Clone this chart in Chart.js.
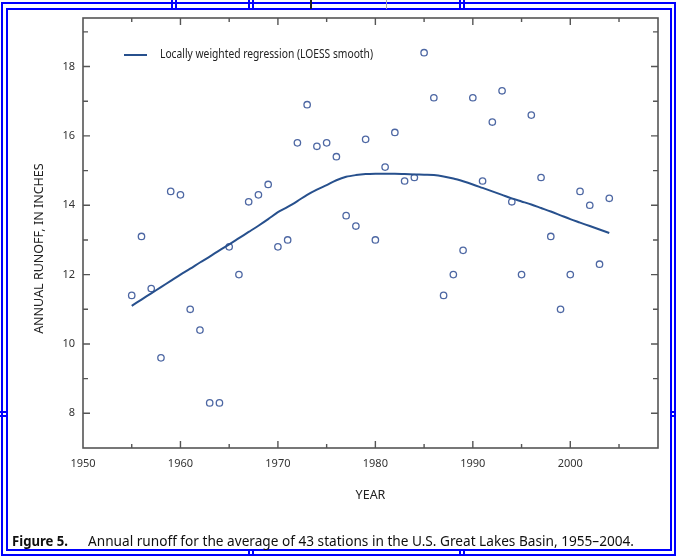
<!DOCTYPE html>
<html>
<head>
<meta charset="utf-8">
<script src="https://cdn.jsdelivr.net/npm/chart.js@4.4.0/dist/chart.umd.min.js"></script>
<style>
  body { margin: 0; background: #fff; }
  #wrap { position: relative; width: 676px; height: 556px; overflow: hidden; background: #fff; }
  #wrap canvas { position: absolute; left: 0; top: 0; }
  .frame { position: absolute; box-sizing: border-box; border: 2px solid #0000ff; }
  .mark { position: absolute; background: #0000ff; }
  .cap { position: absolute; top: 530px; font-family: "Noto Sans", "DejaVu Sans Condensed", sans-serif; font-stretch: condensed; font-size: 15px; color: #111; white-space: nowrap; transform-origin: 0 50%; }
</style>
</head>
<body>
<div id="wrap">
  <canvas id="runoff-chart" width="676" height="556"></canvas>
  <div class="frame" style="left:1px; top:2px; width:675px; height:554px;"></div>
  <div class="frame" style="left:6px; top:8px; width:666px; height:543px;"></div>
  <div class="mark" style="left:171px; top:0; width:2px; height:9px;"></div>
  <div class="mark" style="left:175px; top:0; width:2px; height:9px;"></div>
  <div class="mark" style="left:248px; top:0; width:2px; height:9px;"></div>
  <div class="mark" style="left:252px; top:0; width:2px; height:9px;"></div>
  <div class="mark" style="left:459px; top:0; width:2px; height:9px;"></div>
  <div class="mark" style="left:463px; top:0; width:2px; height:9px;"></div>
  <div class="mark" style="left:310px; top:0; width:2px; height:9px; background:#222"></div>
  <div class="mark" style="left:386px; top:0; width:1px; height:9px; background:#aaa"></div>
  <div class="mark" style="left:248px; top:549px; width:2px; height:7px;"></div>
  <div class="mark" style="left:252px; top:549px; width:2px; height:7px;"></div>
  <div class="mark" style="left:459px; top:549px; width:2px; height:7px;"></div>
  <div class="mark" style="left:463px; top:549px; width:2px; height:7px;"></div>
  <div class="mark" style="left:0; top:411px; width:7px; height:2px;"></div>
  <div class="mark" style="left:0; top:415px; width:7px; height:2px;"></div>
  <div class="mark" style="left:670px; top:411px; width:6px; height:2px;"></div>
  <div class="mark" style="left:670px; top:415px; width:6px; height:2px;"></div>
  <div class="cap" id="cap-fig" data-w="56" style="left:12px; font-weight:bold;">Figure 5.</div>
  <div class="cap" id="cap-text" data-w="546" style="left:88px;">Annual runoff for the average of 43 stations in the U.S. Great Lakes Basin, 1955&#8211;2004.</div>
</div>
<script>
// annual runoff, inches (average of 43 stations)
const years = [1955, 1956, 1957, 1958, 1959, 1960, 1961, 1962, 1963, 1964,
               1965, 1966, 1967, 1968, 1969, 1970, 1971, 1972, 1973, 1974,
               1975, 1976, 1977, 1978, 1979, 1980, 1981, 1982, 1983, 1984,
               1985, 1986, 1987, 1988, 1989, 1990, 1991, 1992, 1993, 1994,
               1995, 1996, 1997, 1998, 1999, 2000, 2001, 2002, 2003, 2004];
const runoff = [11.4, 13.1, 11.6, 9.6, 14.4, 14.3, 11.0, 10.4, 8.3, 8.3,
                12.8, 12.0, 14.1, 14.3, 14.6, 12.8, 13.0, 15.8, 16.9, 15.7,
                15.8, 15.4, 13.7, 13.4, 15.9, 13.0, 15.1, 16.1, 14.7, 14.8,
                18.4, 17.1, 11.4, 12.0, 12.7, 17.1, 14.7, 16.4, 17.3, 14.1,
                12.0, 16.6, 14.8, 13.1, 11.0, 12.0, 14.4, 14.0, 12.3, 14.2];
// LOESS smooth
const loess = [11.10, 11.28, 11.46, 11.64, 11.82, 12.00, 12.17, 12.35, 12.52, 12.70,
               12.87, 13.05, 13.23, 13.41, 13.60, 13.80, 13.95, 14.12, 14.30, 14.45,
               14.58, 14.72, 14.82, 14.87, 14.90, 14.91, 14.91, 14.91, 14.90, 14.89,
               14.88, 14.87, 14.83, 14.77, 14.69, 14.60, 14.50, 14.40, 14.30, 14.20,
               14.11, 14.02, 13.92, 13.82, 13.71, 13.60, 13.50, 13.40, 13.30, 13.20];
const xTicks = [1950, 1960, 1970, 1980, 1990, 2000];
const yTicks = [8, 10, 12, 14, 16, 18];

const FONT = '"Noto Sans", "DejaVu Sans Condensed", sans-serif';
const AXIS_COLOR = '#555';
const POINT_COLOR = '#4d67a3';
const LINE_COLOR = '#27508d';

// squeeze caption lines to the width they have in the figure
document.querySelectorAll('.cap').forEach(function (el) {
    let w = el.getBoundingClientRect().width;
    el.style.transform = 'scaleX(' + (parseFloat(el.dataset.w) / w) + ')';
});

// frame, inward tick marks on all four sides, and the legend inside the plot
const framePlugin = {
    id: 'frameTicks',
    afterDraw: function (chart) {
        let ctx = chart.ctx;
        let area = chart.chartArea;
        let xs = chart.scales.x;
        let ys = chart.scales.y;
        ctx.save();
        ctx.strokeStyle = AXIS_COLOR;
        ctx.lineWidth = 1.6;
        ctx.strokeRect(area.left, area.top, area.right - area.left, area.bottom - area.top);

        ctx.lineWidth = 1.4;
        ctx.beginPath();
        for (let v = xs.min; v <= xs.max; v += 5) {
            let px = xs.getPixelForValue(v);
            if (px <= area.left + 1 || px >= area.right - 1) continue;
            let len = (v % 10 === 0) ? 7 : 4;
            ctx.moveTo(px, area.bottom); ctx.lineTo(px, area.bottom - len);
            ctx.moveTo(px, area.top); ctx.lineTo(px, area.top + len);
        }
        for (let v = Math.ceil(ys.min); v <= ys.max; v += 1) {
            let py = ys.getPixelForValue(v);
            if (py >= area.bottom - 1 || py <= area.top + 1) continue;
            let len = (v % 2 === 0) ? 7 : 5;
            ctx.moveTo(area.left, py); ctx.lineTo(area.left + len, py);
            ctx.moveTo(area.right, py); ctx.lineTo(area.right - len, py);
        }
        ctx.stroke();

        // legend
        let ds = chart.data.datasets[1];
        let ly = area.top + 37;
        ctx.strokeStyle = ds.borderColor;
        ctx.lineWidth = 2;
        ctx.beginPath();
        ctx.moveTo(area.left + 41, ly);
        ctx.lineTo(area.left + 64, ly);
        ctx.stroke();
        ctx.fillStyle = '#222';
        ctx.font = '12.5px ' + FONT;
        ctx.textBaseline = 'middle';
        let tw = ctx.measureText(ds.label).width;
        ctx.translate(area.left + 77, ly - 1);
        ctx.scale(213 / tw, 1);
        ctx.fillText(ds.label, 0, 0);
        ctx.restore();
    }
};

function drawChart() {
    let canvas = document.getElementById('runoff-chart');
    let points = [];
    let curve = [];
    years.forEach(function (yr, i) {
        points.push({x: yr, y: runoff[i]});
        curve.push({x: yr, y: loess[i]});
    });

    let data = {
        datasets: [{
            label: 'Annual runoff',
            data: points,
            showLine: false,
            pointRadius: 3.2,
            pointBorderWidth: 1.3,
            pointBorderColor: POINT_COLOR,
            pointBackgroundColor: 'rgba(255,255,255,0)',
            order: 2
        }, {
            label: 'Locally weighted regression (LOESS smooth)',
            data: curve,
            showLine: true,
            borderColor: LINE_COLOR,
            borderWidth: 2,
            pointRadius: 0,
            tension: 0.3,
            fill: false,
            order: 1
        }]
    };

    new Chart(canvas.getContext('2d'), {
        type: 'scatter',
        data: data,
        plugins: [framePlugin],
        options: {
            responsive: false,
            animation: false,
            devicePixelRatio: 1,
            layout: {padding: {left: 0, top: 18, right: 18, bottom: 50}},
            plugins: {
                legend: {display: false},
                tooltip: {enabled: false}
            },
            scales: {
                x: {
                    type: 'linear',
                    min: 1950,
                    max: 2009,
                    afterFit: function (scale) { scale.height = 58; },
                    afterBuildTicks: function (scale) {
                        scale.ticks = xTicks.map(function (v) { return {value: v}; });
                    },
                    grid: {display: false, drawTicks: false},
                    border: {display: false},
                    ticks: {
                        padding: 9,
                        color: '#333',
                        font: {family: FONT, size: 11},
                        maxRotation: 0,
                        callback: function (v) { return String(v); }
                    },
                    title: {
                        display: true,
                        text: 'YEAR',
                        color: '#222',
                        font: {family: FONT, size: 12.5},
                        padding: {top: 0, bottom: 3}
                    }
                },
                y: {
                    type: 'linear',
                    min: 7,
                    max: 19.4,
                    afterFit: function (scale) { scale.width = 83; },
                    afterBuildTicks: function (scale) {
                        scale.ticks = yTicks.map(function (v) { return {value: v}; });
                    },
                    grid: {display: false, drawTicks: false},
                    border: {display: false},
                    ticks: {
                        padding: 8,
                        color: '#333',
                        font: {family: FONT, size: 11}
                    },
                    title: {
                        display: true,
                        // trailing en spaces push the centred title down to where it sits in the figure
                        text: 'ANNUAL RUNOFF, IN INCHES\u2002\u2002\u2002\u2002\u2002',
                        color: '#222',
                        font: {family: FONT, size: 12.5},
                        padding: {top: 32, bottom: 0}
                    }
                }
            }
        }
    });
}

drawChart();
</script>
</body>
</html>
